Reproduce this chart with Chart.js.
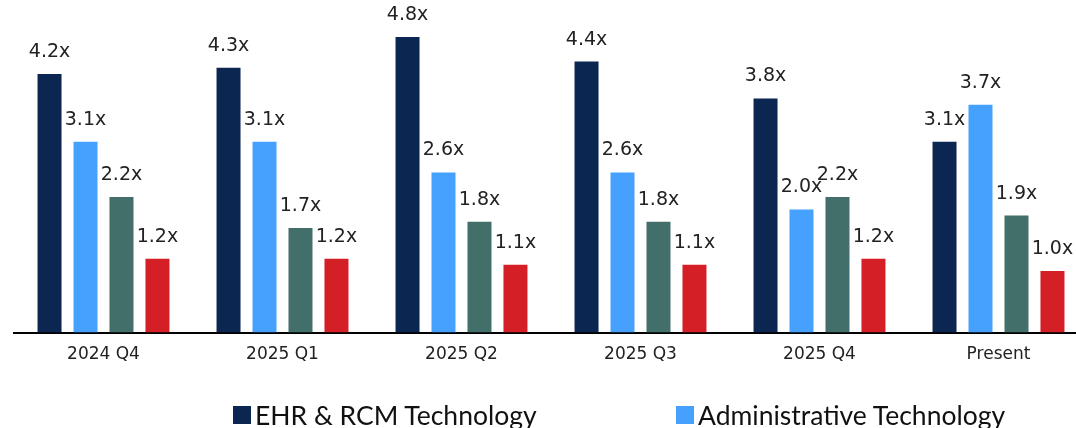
<!DOCTYPE html>
<html>
<head>
<meta charset="utf-8">
<script src="https://cdn.jsdelivr.net/npm/chart.js@4.4.1/dist/chart.umd.min.js"></script>
<style>
  html, body { margin: 0; padding: 0; background: #fff; overflow: hidden; }
  #wrap { position: relative; width: 1090px; height: 428px; }
  canvas { display: block; }
  .item { position: absolute; top: 399px; display: flex; align-items: center; font-family: Lato, sans-serif; font-size: 26.5px; color: #111; white-space: nowrap; }
  .box { width: 18px; height: 18px; margin-right: 4px; }
</style>
</head>
<body>
<div id="wrap">
  <canvas id="multiplesChart" width="1090" height="428"></canvas>
</div>
<script>
const categories = ["2024 Q4", "2025 Q1", "2025 Q2", "2025 Q3", "2025 Q4", "Present"];
const ehrRcm = [4.2, 4.3, 4.8, 4.4, 3.8, 3.1];
const administrative = [3.1, 3.1, 2.6, 2.6, 2.0, 3.7];
const series3 = [2.2, 1.7, 1.8, 1.8, 2.2, 1.9];
const series4 = [1.2, 1.2, 1.1, 1.1, 1.2, 1.0];
const seriesNames = ["EHR & RCM Technology", "Administrative Technology", "Series 3", "Series 4"];
const colors = ["#0b2651", "#45a1fd", "#436f6a", "#d51f27"];

// value labels above each bar, placed from the bar elements
const barLabels = {
  id: "barLabels",
  afterDatasetsDraw(chart) {
    const ctx = chart.ctx;
    ctx.save();
    ctx.font = "19px 'DejaVu Sans'";
    ctx.fillStyle = "#222";
    ctx.textAlign = "center";
    ctx.textBaseline = "middle";
    chart.data.datasets.forEach((ds, i) => {
      chart.getDatasetMeta(i).data.forEach((bar, j) => {
        ctx.fillText(ds.data[j].toFixed(1) + "x", bar.x, bar.y - 22);
      });
    });
    ctx.restore();
  }
};

const ctx = document.getElementById("multiplesChart");
const chart = new Chart(ctx, {
  type: "bar",
  data: {
    labels: categories,
    datasets: [ehrRcm, administrative, series3, series4].map((values, i) => ({
      label: seriesNames[i],
      data: values,
      backgroundColor: colors[i],
      categoryPercentage: 0.804,
      barPercentage: 0.667
    }))
  },
  options: {
    responsive: false,
    animation: false,
    layout: { padding: { left: 14, right: 2, top: 0, bottom: 59 } },
    plugins: {
      legend: { display: false },
      tooltip: { enabled: false }
    },
    scales: {
      x: {
        grid: { display: false },
        border: { color: "#000", width: 2 },
        ticks: { color: "#222", font: { family: "DejaVu Sans", size: 17 }, padding: 4 }
      },
      y: {
        display: false,
        min: 0,
        max: 5.4
      }
    }
  },
  plugins: [barLabels]
});

const wrap = document.getElementById("wrap");
[233, 676].forEach((left, i) => {
  const item = document.createElement("div");
  item.className = "item";
  item.style.left = left + "px";
  item.innerHTML = '<span class="box" style="background:' + colors[i] + '"></span>' + seriesNames[i].replace("&", "&amp;");
  wrap.appendChild(item);
});
</script>
</body>
</html>
